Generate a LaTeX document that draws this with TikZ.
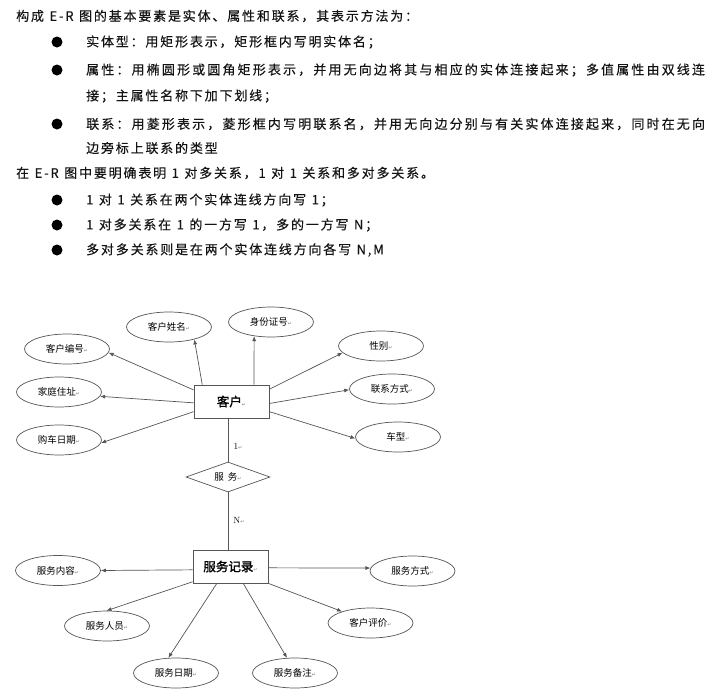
\documentclass[tikz,border=0pt]{standalone}
\usepackage{fontspec}
\usepackage{xcolor}
\usetikzlibrary{shapes.geometric, arrows.meta, positioning}
\newfontfamily\cjk{Noto Sans CJK SC}
\newfontfamily\cjktxt{Noto Sans CJK SC}[LetterSpace=14, FakeBold=0.3]
\newfontfamily\cjkwide{Noto Sans CJK SC}[LetterSpace=16.5, FakeBold=0.3]
\newfontfamily\cjkbold{Noto Sans CJK SC}[FakeBold=1.5]
\newfontfamily\symfont{DejaVu Sans}
\definecolor{linegray}{RGB}{85,85,85}
\definecolor{textgray}{RGB}{20,20,20}
\newcommand{\retmark}{{\symfont\fontsize{5}{5}\selectfont\color{gray}↵}}
\newcommand{\txtfont}{\cjktxt\fontsize{13}{15}\selectfont\spaceskip 5.5pt\relax}
\newcommand{\widefont}{\cjkwide\fontsize{13}{15}\selectfont}

\tikzset{
  line/.style={draw=linegray, line width=0.7pt},
  arr/.style={line, -{Latex[length=5pt,width=4pt]}},
  attr/.style={ellipse, draw=linegray, line width=0.7pt, minimum width=85pt, minimum height=30pt, inner sep=0pt, font=\cjk\fontsize{9.5}{10}\selectfont},
  entity/.style={rectangle, draw=linegray, line width=0.8pt, minimum width=75pt, minimum height=33pt, inner sep=0pt, font=\cjkbold\fontsize{12.5}{13}\selectfont},
  rel/.style={diamond, draw=linegray, line width=0.7pt, minimum width=84pt, minimum height=30pt, aspect=2.8, inner sep=0pt, font=\cjk\fontsize{9.5}{10}\selectfont},
  txtline/.style={anchor=west, inner sep=0pt, text=textgray, font=\txtfont},
  bul/.style={circle, fill=black, minimum size=11pt, inner sep=0pt},
  card/.style={inner sep=1pt, font=\fontsize{9}{10}\selectfont}
}

\begin{document}
\begin{tikzpicture}[x=1pt, y=-1pt]
    \useasboundingbox (0,0) rectangle (705,694);

    % Text above the diagram
    \node[txtline] (l1) at (16,16) {构成 E-R 图的基本要素是实体、属性和联系，其表示方法为：};
    \node[bul] (b1) at (57,42) {};
    \node[txtline] (l2) at (86,42) {实体型：用矩形表示，矩形框内写明实体名；};
    \node[bul] (b2) at (57,70) {};
    \node[txtline, font=\widefont] (l3) at (86,70) {属性：用椭圆形或圆角矩形表示，并用无向边将其与相应的实体连接起来；多值属性由双线连};
    \node[txtline] (l4) at (86,96) {接；主属性名称下加下划线；};
    \node[bul] (b3) at (57,124) {};
    \node[txtline, font=\widefont] (l5) at (86,124) {联系：用菱形表示，菱形框内写明联系名，并用无向边分别与有关实体连接起来，同时在无向};
    \node[txtline] (l6) at (86,148) {边旁标上联系的类型};
    \node[txtline] (l7) at (16,173) {在 E-R 图中要明确表明 1 对多关系，1 对 1 关系和多对多关系。};
    \node[bul] (b4) at (57,200) {};
    \node[txtline] (l8) at (86,200) {1 对 1 关系在两个实体连线方向写 1；};
    \node[bul] (b5) at (57,225) {};
    \node[txtline] (l9) at (86,225) {1 对多关系在 1 的一方写 1，多的一方写 N；};
    \node[bul] (b6) at (57,250) {};
    \node[txtline] (l10) at (86,250) {多对多关系则是在两个实体连线方向各写 N,M};

    % Entities and relationship
    \node[entity] (kehu) at (231.5,401.5) {客户\retmark};
    \node[rel] (fuwu) at (228,477) {服\hspace{4pt}务\retmark};
    \node[entity] (jilu) at (230.5,566.5) {服务记录\retmark};

    \draw[line] (fuwu.north) -- (fuwu.north |- kehu.south);
    \draw[line] (fuwu.south) -- (fuwu.south |- jilu.north);
    \node[card] (c1) at (238,446) {1\retmark};
    \node[card] (cn) at (239,520) {N\retmark};

    % Attributes of 客户
    \node[attr] (khxm) at (169,327) {客户姓名\retmark};
    \node[attr] (sfzh) at (271,322) {身份证号\retmark};
    \node[attr] (khbh) at (67,349) {客户编号\retmark};
    \node[attr] (jtzz) at (59,392) {家庭住址\retmark};
    \node[attr] (gcrq) at (59,440) {购车日期\retmark};
    \node[attr] (xb) at (381,346) {性别\retmark};
    \node[attr] (lxfs) at (392,389) {联系方式\retmark};
    \node[attr] (cx) at (398,437) {车型\retmark};

    \draw[arr] (kehu.150) -- (khxm.-26);
    \draw[arr] (kehu.37.5) -- (sfzh.-140);
    \draw[arr] (kehu.163.4) -- (khbh.-5);
    \draw[arr] (kehu.182) -- (jtzz.-6.5);
    \draw[arr] (kehu.195.3) -- (gcrq.-4);
    \draw[arr] (kehu.18.4) -- (xb.190.8);
    \draw[arr] (kehu.-3) -- (lxfs.181);
    \draw[arr] (kehu.-15.2) -- (cx.182);

    % Attributes of 服务记录
    \node[attr] (fwnr) at (58,570.5) {服务内容\retmark};
    \node[attr] (fwry) at (107,626) {服务人员\retmark};
    \node[attr] (fwrq) at (176,673) {服务日期\retmark};
    \node[attr] (fwbz) at (295,673) {服务备注\retmark};
    \node[attr] (khpj) at (370.5,623) {客户评价\retmark};
    \node[attr] (fwfs) at (412.5,571) {服务方式\retmark};

    \draw[arr] (jilu.185.3) -- (fwnr.0);
    \draw[arr] (jilu.202) -- (fwry.92);
    \draw[arr] (jilu.231.3) -- (fwrq.117.4);
    \draw[arr] (jilu.-53.5) -- (fwbz.118.5);
    \draw[arr] (jilu.-24) -- (khpj.158);
    \draw[arr] (jilu.-2.7) -- (fwfs.176);

\end{tikzpicture}
\end{document}
